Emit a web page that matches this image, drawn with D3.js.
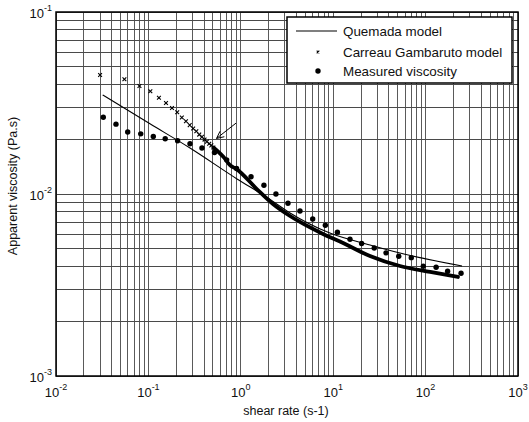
<!doctype html>
<html>
<head>
<meta charset="utf-8">
<script src="https://d3js.org/d3.v7.min.js"></script>
<style>
  body { margin: 0; background: #fff; }
  text { font-family: 'Liberation Sans', Arial, sans-serif; fill: #111; }
</style>
</head>
<body>
<div id="chart"></div>
<script>
// values
var quemadaX = [0.032, 0.104, 0.282, 0.91, 1.97, 3.41, 9.2, 25, 52.8, 248];
var quemadaY = [0.035, 0.0243, 0.0179, 0.0121, 0.0095, 0.00787, 0.0061, 0.00525, 0.00474, 0.00402];

// Carreau Gambaruto crosses (distinct ones at low shear rate)
var carreauX = [0.03, 0.055, 0.08, 0.105, 0.13, 0.155, 0.18, 0.205, 0.23, 0.255,
                0.28, 0.305, 0.33, 0.355, 0.38, 0.405, 0.43, 0.455, 0.48, 0.505];
var carreauY = [0.0451, 0.0427, 0.0392, 0.0367, 0.0338, 0.0316, 0.0297, 0.0281, 0.0263, 0.0251,
                0.0239, 0.0229, 0.0221, 0.0212, 0.0206, 0.0199, 0.0194, 0.0189, 0.0185, 0.0180];
// where the crosses pile up into a thick band
var carreauDenseX = [0.505, 0.647, 0.764, 0.90, 1.49, 2.23, 3.41, 4.37, 7.76, 12.8, 25.0, 52.8, 112, 224];
var carreauDenseY = [0.0180, 0.0160, 0.0144, 0.0137, 0.01065, 0.00881, 0.00757, 0.00702, 0.00603, 0.00538, 0.00456, 0.00402, 0.00373, 0.00350];

var measuredX = [0.0325, 0.0446, 0.0597, 0.0826, 0.113, 0.152, 0.207, 0.282, 0.380, 0.519,
                 0.703, 0.90, 1.29, 1.78, 2.40, 3.24, 4.37, 6.00, 8.22, 11.1,
                 15.2, 20.3, 27.8, 37.3, 51.2, 70.0, 94.4, 130, 173, 242];
var measuredY = [0.0264, 0.0242, 0.0219, 0.0214, 0.0207, 0.0201, 0.0196, 0.0189, 0.0179, 0.0169,
                 0.0154, 0.0138, 0.01245, 0.01117, 0.0100, 0.00889, 0.00807, 0.00729, 0.00673, 0.00617,
                 0.00564, 0.00535, 0.00505, 0.00475, 0.00455, 0.00447, 0.00401, 0.00396, 0.00376, 0.00367];

var xTickExp = [-2, -1, 0, 1, 2, 3];
var yTickExp = [-3, -2, -1];

// arrow annotation: tail then tip, in data units
var arrowFrom = [0.887, 0.0245];
var arrowTo = [0.546, 0.0202];

var legendNames = ["Quemada model", "Carreau Gambaruto model", "Measured viscosity"];

var W = 529, H = 422;
var margin = {top: 12, right: 11, bottom: 46, left: 56};

var svg = d3.select("#chart").append("svg")
    .attr("width", W)
    .attr("height", H);

svg.append("rect").attr("width", W).attr("height", H).attr("fill", "#fff");

var x = d3.scaleLog().domain([1e-2, 1e3]).range([margin.left, W - margin.right]);
var y = d3.scaleLog().domain([1e-3, 1e-1]).range([H - margin.bottom, margin.top]);

// grid, every 1..9 x decade
var grid = svg.append("g").attr("shape-rendering", "crispEdges");
grid.selectAll(".vg").data(x.ticks()).enter().append("line")
    .attr("x1", function (d) { return x(d); })
    .attr("x2", function (d) { return x(d); })
    .attr("y1", y.range()[0]).attr("y2", y.range()[1])
    .attr("stroke", "#5a5a5a").attr("stroke-width", 1);
grid.selectAll(".hg").data(y.ticks()).enter().append("line")
    .attr("y1", function (d) { return y(d); })
    .attr("y2", function (d) { return y(d); })
    .attr("x1", x.range()[0]).attr("x2", x.range()[1])
    .attr("stroke", "#4a4a4a").attr("stroke-width", 1);

// tick labels like 10^-2
svg.selectAll(".xl").data(xTickExp).enter().append("text")
    .attr("x", function (d) { return x(Math.pow(10, d)); })
    .attr("y", 397)
    .attr("text-anchor", "middle")
    .style("font-size", "13px")
    .each(function (d) {
        var t = d3.select(this);
        t.append("tspan").text("10");
        t.append("tspan").attr("dy", -7).style("font-size", "9px").text(d);
    });

svg.selectAll(".yl").data(yTickExp).enter().append("text")
    .attr("x", 52)
    .attr("y", function (d) { return y(Math.pow(10, d)) + 6; })
    .attr("text-anchor", "end")
    .style("font-size", "13px")
    .each(function (d) {
        var t = d3.select(this);
        t.append("tspan").text("10");
        t.append("tspan").attr("dy", -7).style("font-size", "9px").text(d);
    });

// axis titles
svg.append("text")
    .attr("x", 286).attr("y", 415)
    .attr("text-anchor", "middle")
    .style("font-size", "12.5px")
    .text("shear rate (s-1)");

svg.append("text")
    .attr("transform", "translate(17,186) rotate(-90)")
    .attr("text-anchor", "middle")
    .style("font-size", "12.5px")
    .text("Apparent viscosity (Pa.s)");

var plot = svg.append("g");

// Quemada model line
var quemada = quemadaX.map(function (d, i) { return [d, quemadaY[i]]; });
var line = d3.line()
    .x(function (d) { return x(d[0]); })
    .y(function (d) { return y(d[1]); })
    .curve(d3.curveMonotoneX);

plot.append("path")
    .datum(quemada)
    .attr("d", line)
    .attr("fill", "none")
    .attr("stroke", "#000")
    .attr("stroke-width", 1.1);

// Carreau dense band
var dense = carreauDenseX.map(function (d, i) { return [d, carreauDenseY[i]]; });
plot.append("path")
    .datum(dense)
    .attr("d", line)
    .attr("fill", "none")
    .attr("stroke", "#000")
    .attr("stroke-width", 3.8)
    .attr("stroke-linecap", "round");

// Carreau crosses
function cross(sel, s) {
    sel.append("path")
        .attr("d", "M" + (-s) + "," + (-s) + "L" + s + "," + s + "M" + (-s) + "," + s + "L" + s + "," + (-s))
        .attr("stroke", "#000")
        .attr("stroke-width", 1.1)
        .attr("fill", "none");
}
carreauX.forEach(function (d, i) {
    var g = plot.append("g").attr("transform", "translate(" + x(d) + "," + y(carreauY[i]) + ")");
    cross(g, 1.9);
});

// measured points
plot.selectAll(".dot").data(measuredX).enter().append("circle")
    .attr("cx", function (d) { return x(d); })
    .attr("cy", function (d, i) { return y(measuredY[i]); })
    .attr("r", 2.7)
    .attr("fill", "#000");

// arrow
var ax1 = x(arrowFrom[0]), ay1 = y(arrowFrom[1]);
var ax2 = x(arrowTo[0]), ay2 = y(arrowTo[1]);
plot.append("line")
    .attr("x1", ax1).attr("y1", ay1).attr("x2", ax2).attr("y2", ay2)
    .attr("stroke", "#000").attr("stroke-width", 1);
var ang = Math.atan2(ay1 - ay2, ax1 - ax2);
[-0.45, 0.45].forEach(function (a) {
    plot.append("line")
        .attr("x1", ax2).attr("y1", ay2)
        .attr("x2", ax2 + 8 * Math.cos(ang + a))
        .attr("y2", ay2 + 8 * Math.sin(ang + a))
        .attr("stroke", "#000").attr("stroke-width", 1);
});

// frame
svg.append("rect")
    .attr("x", x.range()[0]).attr("y", y.range()[1])
    .attr("width", x.range()[1] - x.range()[0])
    .attr("height", y.range()[0] - y.range()[1])
    .attr("fill", "none")
    .attr("stroke", "#000")
    .attr("stroke-width", 1.5);

// legend
var lg = svg.append("g").attr("transform", "translate(287,17)");
lg.append("rect")
    .attr("width", 225).attr("height", 66)
    .attr("fill", "#fff")
    .attr("stroke", "#000")
    .attr("stroke-width", 1.5);

var rowY = [14, 35, 54];
lg.append("line")
    .attr("x1", 9).attr("x2", 50)
    .attr("y1", rowY[0]).attr("y2", rowY[0])
    .attr("stroke", "#000").attr("stroke-width", 1.1);
cross(lg.append("g").attr("transform", "translate(31," + rowY[1] + ")"), 1.3);
lg.append("circle").attr("cx", 31).attr("cy", rowY[2]).attr("r", 2.7).attr("fill", "#000");

lg.selectAll(".lt").data(legendNames).enter().append("text")
    .attr("x", 56)
    .attr("y", function (d, i) { return rowY[i] + 5; })
    .style("font-size", "13.4px")
    .text(function (d) { return d; });
</script>
</body>
</html>
